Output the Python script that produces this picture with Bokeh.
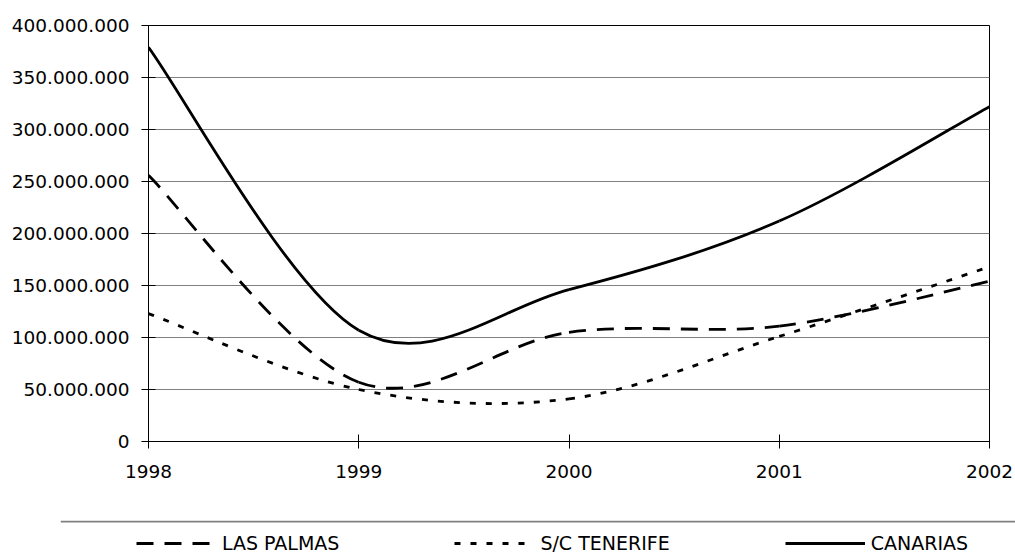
import numpy as np
from bokeh.plotting import figure
from bokeh.models import FixedTicker, Legend, LegendItem, Span
from bokeh.embed import file_html
from bokeh.resources import INLINE

# ---- data ----
years = [1998, 1999, 2000, 2001, 2002]
las_palmas = [256e6, 57e6, 105e6, 111e6, 154e6]
tenerife = [123e6, 50e6, 41e6, 101e6, 168e6]
canarias = [379e6, 107e6, 146e6, 212e6, 322e6]
series_names = ["LAS PALMAS", "S/C TENERIFE", "CANARIAS"]
y_ticks = [0, 50e6, 100e6, 150e6, 200e6, 250e6, 300e6, 350e6, 400e6]
y_tick_labels = ["0", "50.000.000", "100.000.000", "150.000.000", "200.000.000",
                 "250.000.000", "300.000.000", "350.000.000", "400.000.000"]
x_tick_labels = ["1998", "1999", "2000", "2001", "2002"]

FONT = "DejaVu Sans"
AX_FS = "18.5px"
LEG_FS = "19px"
LW = 2.8
styles = [
    dict(line_dash="17 11"),
    dict(line_dash="6 10"),
    dict(line_dash="solid"),
]


def smooth_segments(xs, ys):
    """Bezier control points (Catmull-Rom style, like Excel smoothed lines)."""
    x = np.asarray(xs, dtype=float)
    y = np.asarray(ys, dtype=float)
    xp = np.concatenate([[x[0]], x, [x[-1]]])
    yp = np.concatenate([[y[0]], y, [y[-1]]])
    n = len(x)
    out = {k: [] for k in ("x0", "y0", "x1", "y1", "cx0", "cy0", "cx1", "cy1")}
    for i in range(n - 1):
        j = i + 1
        out["x0"].append(xp[j]); out["y0"].append(yp[j])
        out["x1"].append(xp[j + 1]); out["y1"].append(yp[j + 1])
        out["cx0"].append(xp[j] + (xp[j + 1] - xp[j - 1]) / 6.0)
        out["cy0"].append(yp[j] + (yp[j + 1] - yp[j - 1]) / 6.0)
        out["cx1"].append(xp[j + 1] - (xp[j + 2] - xp[j]) / 6.0)
        out["cy1"].append(yp[j + 1] - (yp[j + 2] - yp[j]) / 6.0)
    return out


def draw_series(fig):
    rs = []
    for vals, st in zip([las_palmas, tenerife, canarias], styles):
        seg = smooth_segments(years, vals)
        rs.append(fig.bezier(x0=seg["x0"], y0=seg["y0"], x1=seg["x1"], y1=seg["y1"],
                             cx0=seg["cx0"], cy0=seg["cy0"], cx1=seg["cx1"], cy1=seg["cy1"],
                             line_color="black", line_width=LW, **st))
    return rs


# ---- main chart ----
p = figure(frame_width=841, frame_height=416,
           min_border_left=148, min_border_right=26,
           min_border_top=25, min_border_bottom=79,
           x_range=(years[0], years[-1]), y_range=(0, 400e6),
           toolbar_location=None, output_backend="svg",
           outline_line_color="black", outline_line_width=1)
draw_series(p)

p.xgrid.visible = False
p.ygrid.grid_line_color = "#808080"
p.ygrid.grid_line_width = 1
p.ygrid.ticker = FixedTicker(ticks=y_ticks)

p.yaxis.ticker = FixedTicker(ticks=y_ticks)
p.yaxis.major_label_overrides = {t: l for t, l in zip(y_ticks, y_tick_labels)}
p.xaxis.ticker = FixedTicker(ticks=years)
p.xaxis.major_label_overrides = {y: l for y, l in zip(years, x_tick_labels)}

for ax in (p.xaxis, p.yaxis):
    ax.axis_line_color = "black"
    ax.axis_line_width = 1
    ax.major_tick_line_color = "black"
    ax.major_tick_out = 7
    ax.major_tick_in = 7
    ax.minor_tick_line_color = None
    ax.major_label_text_font = FONT
    ax.major_label_text_font_size = AX_FS
    ax.major_label_text_color = "black"
p.yaxis.major_label_standoff = 12
p.xaxis.major_label_standoff = 16

# ---- legend panel (separate root, below the chart) ----
LEG_LEFT = 60
leg = figure(width=1015, height=38,
             x_range=(0, 1), y_range=(0, 38),
             toolbar_location=None, output_backend="svg",
             x_axis_location=None, y_axis_location=None,
             min_border_left=LEG_LEFT, min_border_right=0,
             min_border_top=0, min_border_bottom=0,
             outline_line_color=None)
leg.xgrid.visible = False
leg.ygrid.visible = False
# legend proxies: the same series, outside this panel's visible x range
proxies = draw_series(leg)
leg.add_layout(Span(location=37, dimension="width", line_color="#808080", line_width=2))

legend = Legend(items=[LegendItem(label=n, renderers=[r]) for n, r in zip(series_names, proxies)],
                orientation="horizontal", location=(136 - LEG_LEFT, 4),
                glyph_width=80, glyph_height=20, label_standoff=6, spacing=115,
                padding=0, margin=0, border_line_color=None, background_fill_alpha=0,
                label_text_font=FONT, label_text_font_size=LEG_FS, label_text_color="black")
leg.add_layout(legend)

open("out.html", "w").write(file_html([p, leg], INLINE))
